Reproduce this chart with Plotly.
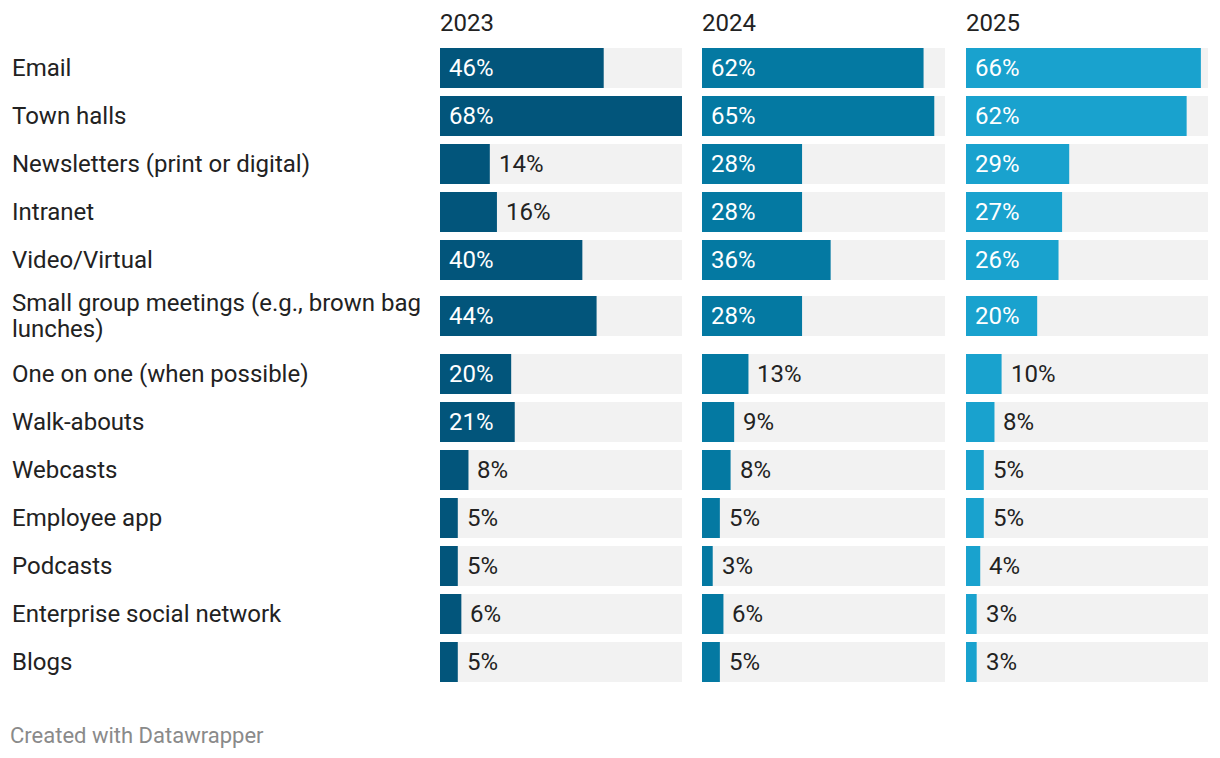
import textwrap
import plotly.graph_objects as go

# ---- data ----
categories = [
    "Email", "Town halls", "Newsletters (print or digital)", "Intranet",
    "Video/Virtual", "Small group meetings (e.g., brown bag lunches)",
    "One on one (when possible)", "Walk-abouts", "Webcasts", "Employee app",
    "Podcasts", "Enterprise social network", "Blogs",
]
years = ["2023", "2024", "2025"]
values_2023 = [46, 68, 14, 16, 40, 44, 20, 21, 8, 5, 5, 6, 5]
values_2024 = [62, 65, 28, 28, 36, 28, 13, 9, 8, 5, 3, 6, 5]
values_2025 = [66, 62, 29, 27, 26, 20, 10, 8, 5, 5, 4, 3, 3]
series = [values_2023, values_2024, values_2025]

# ---- style / layout ----
OFF = 8   # page body margin in the browser
PAD = 2   # annotation text padding
W, H = 1220 - OFF, 758 - OFF
colors = ["#02557b", "#0479a2", "#19a2ce"]
bg_color = "#f2f2f2"
text_color = "#222222"
font_family = "Roboto"
fs = 24
col_domains_px = [(440, 682), (702, 945), (966, 1208)]
label_x_px = 12
first_top = 48
bar_h = 40
gap = 8
line_h = 26
inside_min = 18

xmax = max(max(s) for s in series)

# row positions (pixels from top of window)
wrapped = [textwrap.wrap(c, 38) for c in categories]
centers = []
top = first_top
for lines in wrapped:
    content = bar_h if len(lines) == 1 else 29 * len(lines)
    centers.append(top + content / 2 - OFF - (0 if len(lines) == 1 else 1))
    top += content + gap

fig = go.Figure()
annotations = []
axis_names = ["x", "x2", "x3"]
for k, (yr, vals, col) in enumerate(zip(years, series, colors)):
    ax = axis_names[k]
    fig.add_trace(go.Bar(
        x=[xmax] * len(vals), y=centers, orientation="h", width=bar_h,
        marker=dict(color=bg_color, line=dict(width=0)),
        xaxis=ax, yaxis="y", hoverinfo="skip", showlegend=False,
    ))
    fig.add_trace(go.Bar(
        x=vals, y=centers, orientation="h", width=bar_h,
        marker=dict(color=col, line=dict(width=0)),
        xaxis=ax, yaxis="y", hoverinfo="skip", showlegend=False,
    ))
    for v, yc in zip(vals, centers):
        inside = v >= inside_min
        annotations.append(dict(
            x=0 if inside else v, y=yc, xref=ax, yref="y",
            text=f"{v}%", showarrow=False, xanchor="left", yanchor="middle",
            xshift=7,
            font=dict(family=font_family, size=fs,
                      color="#ffffff" if inside else text_color),
        ))
    x0, x1 = col_domains_px[k]
    annotations.append(dict(
        x=(x0 - OFF - PAD) / W, y=23 - OFF, xref="paper", yref="y", text=yr,
        showarrow=False, xanchor="left", yanchor="middle",
        font=dict(family=font_family, size=fs, color=text_color),
    ))

for lines, yc in zip(wrapped, centers):
    n = len(lines)
    for i, ln in enumerate(lines):
        annotations.append(dict(
            x=(label_x_px - OFF - PAD) / W, y=yc + (i - (n - 1) / 2) * line_h,
            xref="paper", yref="y", text=ln, showarrow=False,
            xanchor="left", yanchor="middle",
            font=dict(family=font_family, size=fs, color=text_color),
        ))

annotations.append(dict(
    x=(10 - OFF - PAD) / W, y=735 - OFF, xref="paper", yref="y",
    text="Created with Datawrapper",
    showarrow=False, xanchor="left", yanchor="middle",
    font=dict(family=font_family, size=22, color="#8a8a8a"),
))

layout = dict(
    width=W, height=H, margin=dict(l=0, r=0, t=0, b=0),
    paper_bgcolor="white", plot_bgcolor="white",
    barmode="overlay", annotations=annotations,
    yaxis=dict(range=[H, 0], domain=[0, 1], visible=False, fixedrange=True),
)
for k, ax in enumerate(axis_names):
    x0, x1 = col_domains_px[k]
    key = "xaxis" if k == 0 else f"xaxis{k + 1}"
    layout[key] = dict(domain=[(x0 - OFF) / W, (x1 - OFF) / W], range=[0, xmax],
                       visible=False, anchor="y", fixedrange=True)
fig.update_layout(**layout)

fig.write_html("out.html", config={"displayModeBar": False})
